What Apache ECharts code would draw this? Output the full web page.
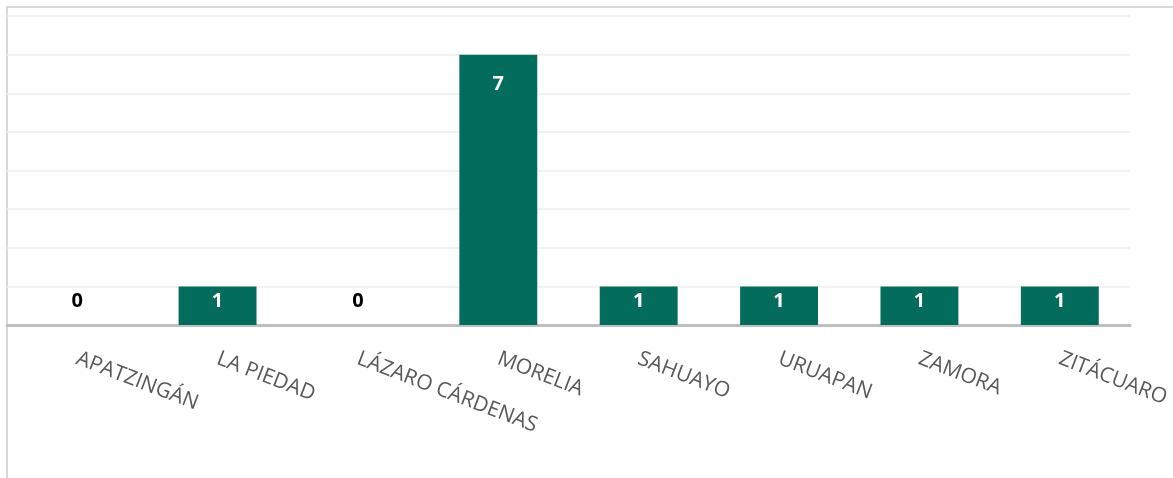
<!DOCTYPE html>
<html>
<head>
<meta charset="utf-8">
<title>Municipios</title>
<script src="https://cdn.jsdelivr.net/npm/echarts@6/dist/echarts.min.js"></script>
<style>
    html, body { margin: 0; padding: 0; background: #fff; }
    #frame { position: absolute; left: 6px; top: 6px; width: 1167px; height: 472px;
             border-left: 2px solid #d9d9d9; border-top: 2px solid #d9d9d9; box-sizing: border-box; }
    #chart { position: absolute; left: 0; top: 0; width: 1173px; height: 478px; }
</style>
</head>
<body>
<div id="frame"></div>
<div id="chart"></div>
<script>
    // datos
    var categorias = ['APATZINGÁN', 'LA PIEDAD', 'LÁZARO CÁRDENAS', 'MORELIA', 'SAHUAYO', 'URUAPAN', 'ZAMORA', 'ZITÁCUARO'];
    var valores = [0, 1, 0, 7, 1, 1, 1, 1];
    var yMax = 8;

    var barData = valores.map(function (v) {
        var item = { value: v };
        if (v === 0) {
            item.label = { position: 'top', distance: 14, color: '#000' };
        } else if (v > 1) {
            item.label = { position: 'insideTop', distance: 20 };
        }
        return item;
    });

    var option = {
        animation: false,
        grid: {
            top: 16,
            left: 7,
            right: 43,
            bottom: 153
        },
        xAxis: {
            type: 'category',
            data: categorias,
            axisLine: { lineStyle: { color: '#bfbfbf', width: 3 } },
            axisTick: { show: false },
            axisLabel: {
                interval: 0,
                rotate: -21,
                margin: 33,
                color: '#595959',
                fontSize: 21,
                fontFamily: 'Open Sans'
            }
        },
        yAxis: {
            type: 'value',
            min: 0,
            max: yMax,
            interval: 1,
            axisLabel: { show: false },
            axisLine: { show: false },
            axisTick: { show: false },
            splitLine: { lineStyle: { color: '#eeeeee', width: 1.5 } }
        },
        series: [{
            type: 'bar',
            data: barData,
            barWidth: '55.5%',
            itemStyle: { color: '#046c5c' },
            label: {
                show: true,
                position: 'insideTop',
                distance: 5,
                color: '#fff',
                fontSize: 20,
                fontWeight: 'bold',
                fontFamily: 'Open Sans'
            }
        }]
    };

    var myChart = echarts.init(document.getElementById('chart'));
    myChart.setOption(option);
</script>
</body>
</html>
